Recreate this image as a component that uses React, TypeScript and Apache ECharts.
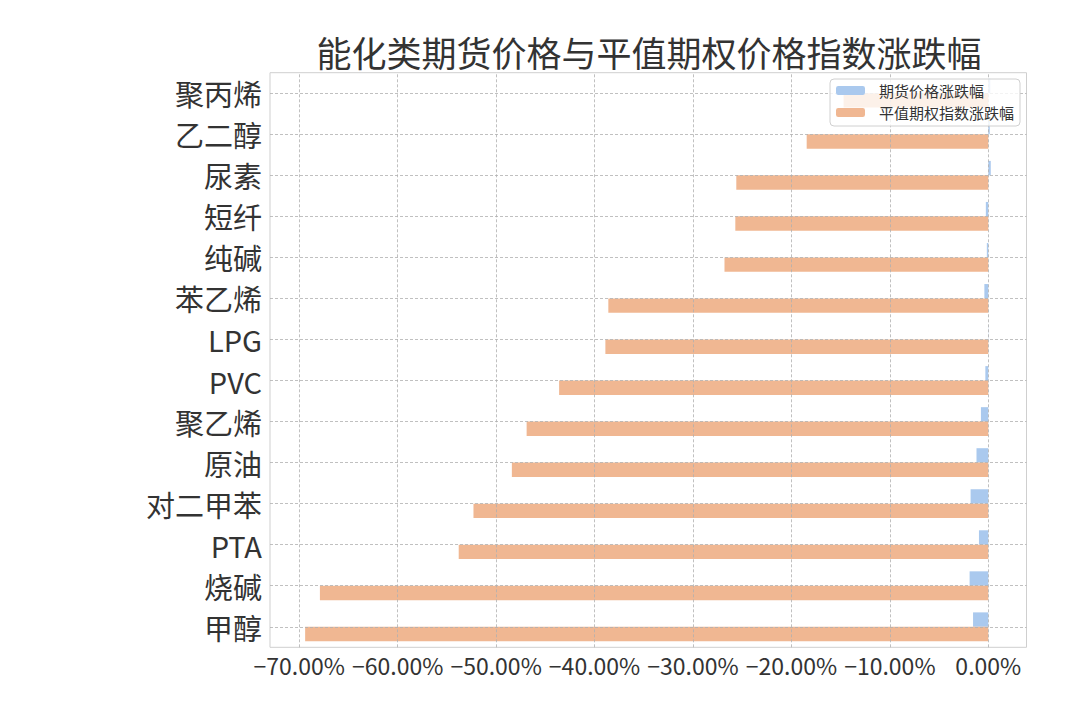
import React, { useEffect, useRef } from "react";
import * as echarts from "echarts";

const categories = ["甲醇", "烧碱", "PTA", "对二甲苯", "原油", "聚乙烯", "PVC", "LPG", "苯乙烯", "纯碱", "短纤", "尿素", "乙二醇", "聚丙烯"];
const futuresChange = [-1.55, -1.9, -0.95, -1.8, -1.2, -0.75, -0.3, -0.02, -0.4, -0.15, -0.25, 0.25, 0.15, 0.2];
const optionIndexChange = [-69.4, -67.9, -53.8, -52.3, -48.4, -46.9, -43.6, -38.9, -38.6, -26.8, -25.7, -25.6, -18.45, -14.7];
const xTicks = [-70, -60, -50, -40, -30, -20, -10, 0];
const seriesNames = ["期货价格涨跌幅", "平值期权指数涨跌幅"];
const titleText = "能化类期货价格与平值期权价格指数涨跌幅";

const FONT = "Noto Sans CJK SC";

export default function App() {
  const ref = useRef<HTMLDivElement>(null);
  useEffect(() => {
    if (!ref.current) return;
    const chart = echarts.init(ref.current, undefined, { renderer: "svg" });
    const gridLineStyle = { type: [3, 2] as any, color: "#b0b0b0", width: 0.8 };
    const fmt = (v: number) => (v < 0 ? "\u2212" : "") + Math.abs(v).toFixed(2) + "%";
    chart.setOption({
      animation: false,
      textStyle: { fontFamily: FONT },
      title: {
        text: titleText,
        left: 649,
        textAlign: "center",
        top: 34,
        padding: 0,
        textStyle: { fontSize: 35, fontWeight: "normal", color: "#333", fontFamily: FONT },
      },
      legend: {
        data: seriesNames,
        orient: "vertical",
        left: 830,
        top: 79,
        padding: [4, 6, 6, 6],
        itemGap: 7,
        itemWidth: 29,
        itemHeight: 9,
        backgroundColor: "rgba(255,255,255,0.8)",
        borderColor: "#d0d0d0",
        borderWidth: 1,
        borderRadius: 4,
        textStyle: { fontSize: 15, color: "#333", fontFamily: FONT, padding: [0, 0, 0, 9] },
        z: 10,
      },
      grid: {
        left: 270,
        top: 72.7,
        width: 756.5,
        height: 574.6,
        show: true,
        borderColor: "#cfcfcf",
        borderWidth: 1,
        backgroundColor: "transparent",
        containLabel: false,
      },
      xAxis: {
        type: "value",
        min: -72.97,
        max: 3.88,
        axisLine: { show: false },
        axisTick: { show: false, customValues: xTicks },
        splitLine: { show: false },
        axisLabel: {
          customValues: xTicks,
          formatter: fmt,
          fontSize: 23,
          color: "#333",
          margin: 6,
          fontFamily: FONT,
        },
      },
      yAxis: {
        type: "category",
        data: categories,
        axisLine: { show: false },
        axisTick: { show: false },
        splitLine: { show: false },
        axisLabel: { fontSize: 29, color: "#333", margin: 8, fontFamily: FONT },
      },
      series: [
        {
          type: "scatter",
          data: [],
          silent: true,
          z: 1,
          markLine: {
            silent: true,
            symbol: "none",
            label: { show: false },
            lineStyle: gridLineStyle,
            data: [
              ...xTicks.map((v) => ({ xAxis: v })),
              ...categories.map((c) => ({ yAxis: c })),
            ],
          },
        },
        {
          name: seriesNames[0],
          type: "bar",
          data: futuresChange,
          barWidth: 14.4,
          barGap: "0%",
          itemStyle: { color: "#aac9ee" },
          z: 3,
        },
        {
          name: seriesNames[1],
          type: "bar",
          data: optionIndexChange,
          barWidth: 14.4,
          barGap: "0%",
          itemStyle: { color: "#f0b792" },
          z: 3,
        },
      ],
    });
    return () => chart.dispose();
  }, []);
  return (
    <div
      ref={ref}
      style={{ position: "fixed", left: 0, top: 0, width: 1080, height: 720, background: "#fff" }}
    />
  );
}
